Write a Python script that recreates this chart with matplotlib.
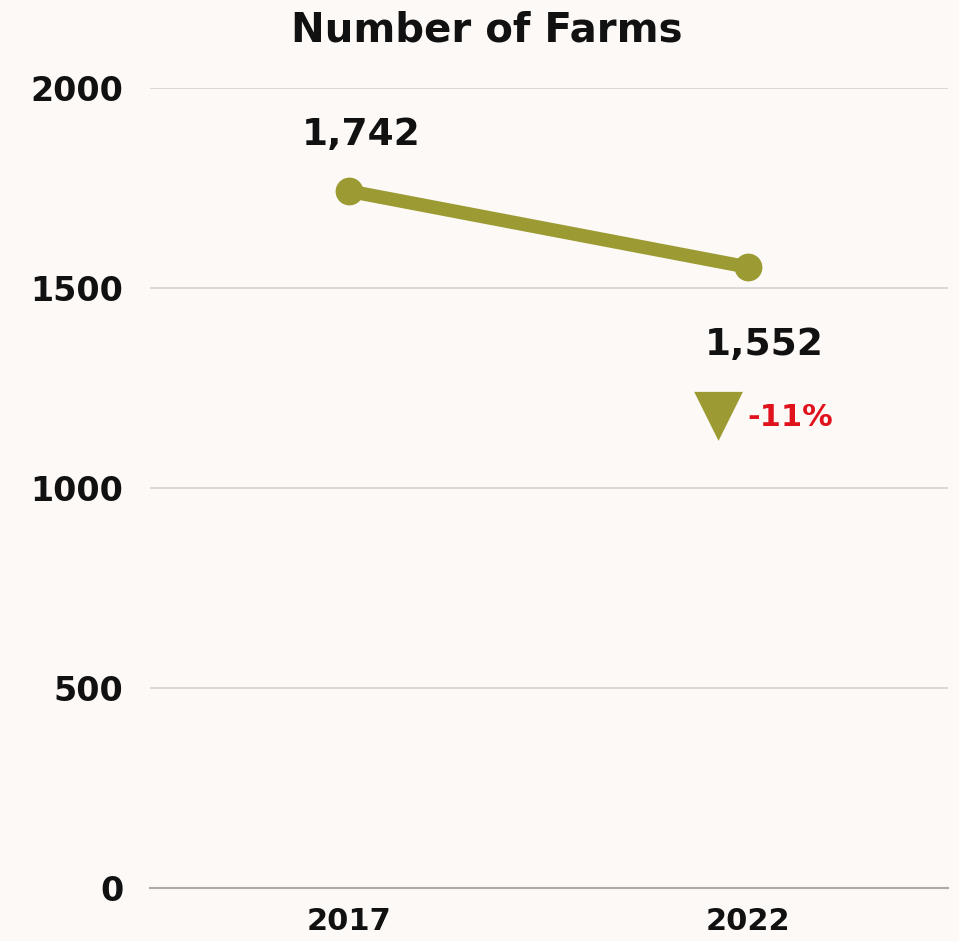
import matplotlib.pyplot as plt

years = ["2017", "2022"]
farms = [1742, 1552]
change_label = "-11%"
yticks = [0, 500, 1000, 1500, 2000]

bg = "#fcf9f6"
olive = "#9c9b33"

fig = plt.figure(figsize=(9.59, 9.41), dpi=100, facecolor=bg)
ax = fig.add_axes([0.1564, 0.0563, 0.832, 0.8502], facecolor=bg)

x = list(range(len(years)))
ax.plot(x, farms, color=olive, lw=9.8, marker="o", markersize=19, solid_capstyle="round", zorder=3)

ax.set_xlim(-0.5, 1.5)
ax.set_ylim(0, 2000)
ax.set_yticks(yticks)
ax.set_yticklabels([str(v) for v in yticks])
ax.set_xticks(x)
ax.set_xticklabels(years)
ax.grid(axis="y", color="#d6d6d6", lw=1.3)
ax.set_axisbelow(True)
for s in ["top", "right", "left"]:
    ax.spines[s].set_visible(False)
ax.spines["bottom"].set_color("#aaaaaa")
ax.spines["bottom"].set_linewidth(1.5)
ax.tick_params(axis="x", length=0, labelsize=22, pad=14)
ax.tick_params(axis="y", length=0, labelsize=24, pad=19)
for lab in ax.get_xticklabels() + ax.get_yticklabels():
    lab.set_fontweight("bold")
    lab.set_color("#111111")

# value labels
ax.annotate(f"{farms[0]:,}", (x[0], farms[0]), xytext=(12, 56), textcoords="offset pixels",
            ha="center", va="center", fontsize=27, fontweight="bold", color="#111111")
ax.annotate(f"{farms[1]:,}", (x[1], farms[1]), xytext=(16, -78), textcoords="offset pixels",
            ha="center", va="center", fontsize=27, fontweight="bold", color="#111111")
# change indicator
ax.annotate("\u25bc", (x[1], farms[1]), xytext=(-30, -148), textcoords="offset pixels",
            ha="center", va="center", fontsize=46, color=olive)
ax.annotate(change_label, (x[1], farms[1]), xytext=(42, -150), textcoords="offset pixels",
            ha="center", va="center", fontsize=22, fontweight="bold", color="#e0121c")

fig.text(0.508, 0.968, "Number of Farms", ha="center", va="center",
         fontsize=29, fontweight="bold", color="#111111")

fig.savefig("out.png", dpi=100, facecolor=bg)
